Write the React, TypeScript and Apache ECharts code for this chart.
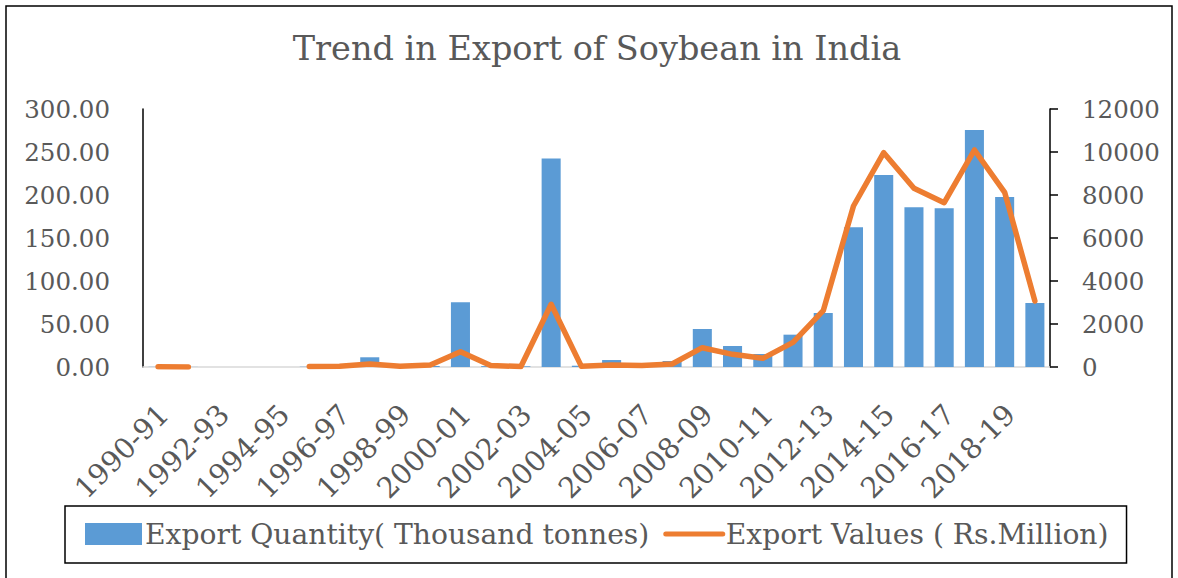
import React, { useEffect, useRef } from "react";
import * as echarts from "echarts";

const categories = [
  "1990-91", "1991-92", "1992-93", "1993-94", "1994-95", "1995-96", "1996-97", "1997-98",
  "1998-99", "1999-00", "2000-01", "2001-02", "2002-03", "2003-04", "2004-05", "2005-06",
  "2006-07", "2007-08", "2008-09", "2009-10", "2010-11", "2011-12", "2012-13", "2013-14",
  "2014-15", "2015-16", "2016-17", "2017-18", "2018-19", "2019-20",
];

const exportQuantity: (number | null)[] = [
  0.2, 0.1, null, null, null, 0.3, 0.5, 11.3, 0.6, 1.2, 75.2, 1.0, 0.8, 242.5, 1.5,
  8.1, 1.2, 7.0, 44.2, 24.4, 15.1, 37.6, 62.8, 162.4, 223.3, 185.7, 184.5, 275.6, 197.7, 74.4,
];

const exportValues: (number | null)[] = [
  10, 5, null, null, null, 20, 40, 140, 30, 90, 712, 70, 20, 2916, 30,
  90, 70, 140, 898, 589, 403, 1147, 2620, 7488, 9969, 8310, 7643, 10093, 8124, 3070,
];

const leftTicks = { min: 0, max: 300, interval: 50 };
const rightTicks = { min: 0, max: 12000, interval: 2000 };

const titleText = "Trend in Export of Soybean in India";
const seriesNames = ["Export Quantity( Thousand tonnes)", "Export Values ( Rs.Million)"];

const FONT = "DejaVu Serif";
const GREY = "#595959";

export default function App() {
  const ref = useRef<HTMLDivElement>(null);
  useEffect(() => {
    if (!ref.current) return;
    const chart = echarts.init(ref.current, null, { renderer: "svg" });
    chart.setOption({
      animation: false,
      backgroundColor: "#ffffff",
      title: {
        text: titleText,
        left: 592,
        textAlign: "center",
        top: 26,
        textStyle: { fontFamily: FONT, fontSize: 33.5, fontWeight: "normal", color: GREY },
      },
      graphic: [
        {
          type: "rect",
          shape: { x: 6, y: 6, width: 1166, height: 620 },
          style: { fill: "none", stroke: "#000", lineWidth: 1.5 },
          silent: true,
        },
      ],
      legend: {
        left: 65,
        top: 506,
        padding: [14, 18, 15, 20],
        borderColor: "#000",
        borderWidth: 1.5,
        itemWidth: 57,
        itemHeight: 22,
        itemGap: 14,
        textStyle: { fontFamily: FONT, fontSize: 28.2, color: GREY, padding: [0, 0, 0, -2] },
        data: [
          { name: seriesNames[0], icon: "rect" },
          {
            name: seriesNames[1],
            itemStyle: { opacity: 0 },
            lineStyle: { width: 5, color: "#ED7D31", cap: "round" },
          },
        ],
      },
      grid: { left: 143, right: 128, top: 109, bottom: 211, containLabel: false },
      xAxis: {
        type: "category",
        data: categories,
        boundaryGap: true,
        axisLine: { show: true, lineStyle: { color: "#D9D9D9", width: 1.5 } },
        axisTick: { show: false },
        axisLabel: {
          interval: 1,
          rotate: 45,
          margin: 37,
          verticalAlign: "top",
          lineHeight: 16,
          fontFamily: FONT,
          fontSize: 28.5,
          color: GREY,
        },
      },
      yAxis: [
        {
          type: "value",
          ...leftTicks,
          position: "left",
          splitLine: { show: false },
          axisLine: { show: true, lineStyle: { color: "#000", width: 1.5 } },
          axisTick: { show: false },
          axisLabel: {
            margin: 33,
            fontFamily: FONT,
            fontSize: 24.5,
            color: GREY,
            formatter: (v: number) => v.toFixed(2),
          },
        },
        {
          type: "value",
          ...rightTicks,
          position: "right",
          splitLine: { show: false },
          axisLine: { show: true, lineStyle: { color: "#000", width: 1.5 } },
          axisTick: { show: true, inside: false, length: 8, lineStyle: { color: "#000", width: 1.5 } },
          axisLabel: {
            margin: 32,
            fontFamily: FONT,
            fontSize: 24.5,
            color: GREY,
            formatter: (v: number) => String(v),
          },
        },
      ],
      series: [
        {
          name: seriesNames[0],
          type: "bar",
          yAxisIndex: 0,
          data: exportQuantity,
          barCategoryGap: "37%",
          itemStyle: { color: "#5B9BD5" },
        },
        {
          name: seriesNames[1],
          type: "line",
          yAxisIndex: 1,
          data: exportValues,
          connectNulls: false,
          showSymbol: false,
          symbol: "none",
          lineStyle: { color: "#ED7D31", width: 5.5, cap: "round", join: "round" },
          itemStyle: { color: "#ED7D31" },
        },
      ],
    });
    return () => chart.dispose();
  }, []);
  return (
    <div
      ref={ref}
      style={{ position: "fixed", left: 0, top: 0, width: 1178, height: 578 }}
    />
  );
}
